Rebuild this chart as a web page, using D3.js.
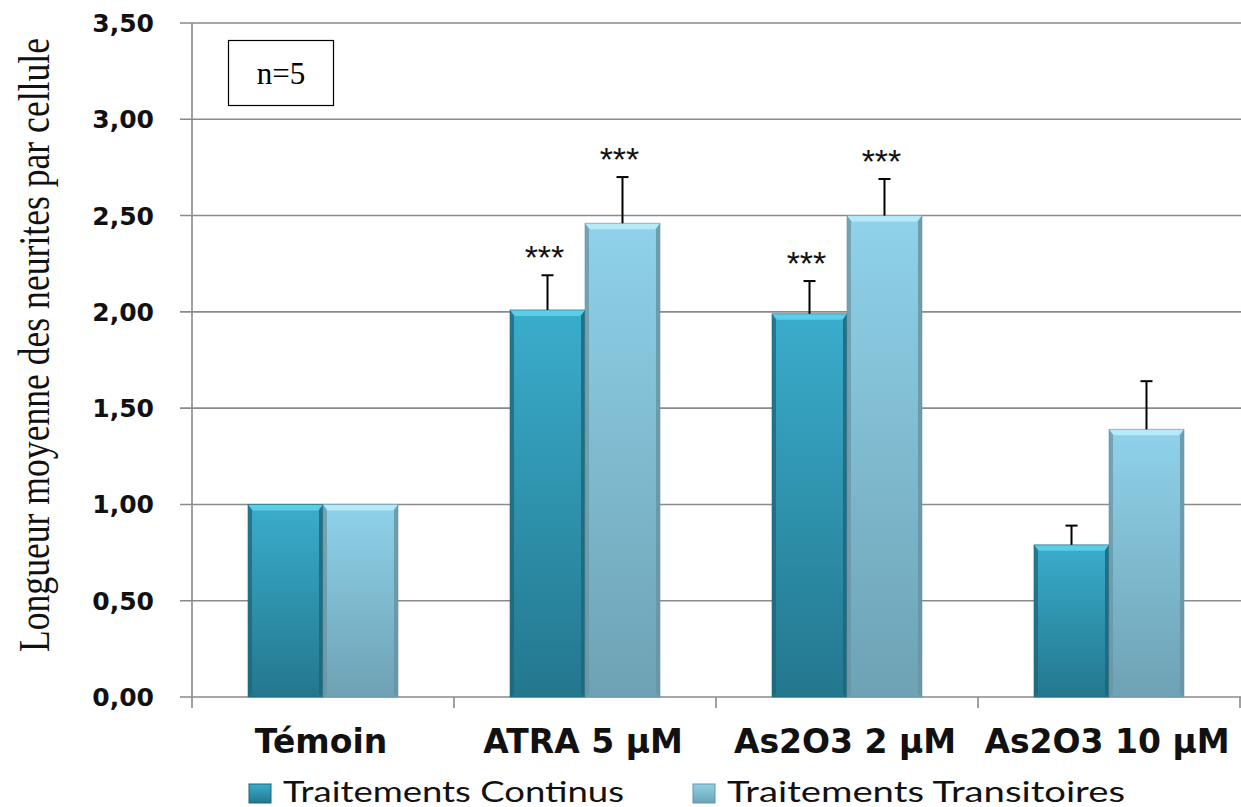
<!DOCTYPE html>
<html>
<head>
<meta charset="utf-8">
<script src="https://cdn.jsdelivr.net/npm/d3@7/dist/d3.min.js"></script>
<style>
  html, body { margin: 0; padding: 0; background: #fff; }
  svg { display: block; }
</style>
</head>
<body>
<svg id="chart" width="1241" height="807"></svg>
<script>
// Neurite length per cell, continuous vs. transient treatments
const categories = ["Témoin", "ATRA 5 µM", "As2O3 2 µM", "As2O3 10 µM"];
const seriesNames = ["Traitements Continus", "Traitements Transitoires"];
const continus = [1.00, 2.01, 1.99, 0.79];
const continusErr = [0, 0.18, 0.17, 0.10];
const transitoires = [1.00, 2.46, 2.50, 1.39];
const transitoiresErr = [0, 0.24, 0.19, 0.25];
const continusSig = ["", "***", "***", ""];
const transitoiresSig = ["", "***", "***", ""];
const yTicks = [0, 0.5, 1.0, 1.5, 2.0, 2.5, 3.0, 3.5];
const yTitle = "Longueur moyenne des neurites par cellule";
const nLabel = "n=5";

const svg = d3.select("#chart");
const W = 1241, H = 807;
const m = { left: 192, right: 1, top: 23, bottom: 110 };

const y = d3.scaleLinear().domain([0, 3.5]).range([H - m.bottom, m.top]);
const x0 = d3.scaleBand().domain(categories).range([m.left, W - m.right]).padding(0);
const x1 = d3.scaleBand().domain([0, 1]).range([0, x0.bandwidth()]).paddingInner(0).paddingOuter(0.747);

const fmt = v => d3.format(".2f")(v).replace(".", ",");

// gradients for the two series
const defs = svg.append("defs");
const palettes = [
  { id: "gC", top: "#3aadcc", bottom: "#23778e", edge: "#1d6679", hi: "#62d3ec" },
  { id: "gT", top: "#8fd2ea", bottom: "#6ea2b4", edge: "#6994a3", hi: "#bdeefb" }
];
palettes.forEach(p => {
  const g = defs.append("linearGradient").attr("id", p.id).attr("x1", 0).attr("y1", 0).attr("x2", 0).attr("y2", 1);
  g.append("stop").attr("offset", "0%").attr("stop-color", p.top);
  g.append("stop").attr("offset", "100%").attr("stop-color", p.bottom);
});

// horizontal gridlines
svg.append("g").selectAll("line").data(yTicks).join("line")
  .attr("x1", m.left - 12).attr("x2", W)
  .attr("y1", d => y(d)).attr("y2", d => y(d))
  .attr("stroke", "#8a8a8a").attr("stroke-width", 1.6);

// y axis line
svg.append("line")
  .attr("x1", m.left).attr("x2", m.left)
  .attr("y1", y(3.5)).attr("y2", y(0) + 11)
  .attr("stroke", "#8a8a8a").attr("stroke-width", 1.6);

// category boundary ticks
const bounds = categories.map(c => x0(c)).concat([x0(categories[3]) + x0.bandwidth()]);
svg.append("g").selectAll("line").data(bounds.slice(1)).join("line")
  .attr("x1", d => d).attr("x2", d => d)
  .attr("y1", y(0)).attr("y2", y(0) + 11)
  .attr("stroke", "#8a8a8a").attr("stroke-width", 1.6);

// y tick labels
svg.append("g").selectAll("text").data(yTicks).join("text")
  .attr("x", 154).attr("y", d => y(d) + 9)
  .attr("text-anchor", "end")
  .attr("font-family", "DejaVu Sans").attr("font-weight", "bold")
  .attr("font-size", 25).attr("fill", "#111")
  .text(fmt);

// bars
const series = [
  { vals: continus, err: continusErr, sig: continusSig, pal: palettes[0] },
  { vals: transitoires, err: transitoiresErr, sig: transitoiresSig, pal: palettes[1] }
];

series.forEach((s, si) => {
  categories.forEach((c, ci) => {
    const v = s.vals[ci];
    const bx = x0(c) + x1(si);
    const bw = x1.bandwidth();
    const by = y(v), bh = y(0) - y(v);
    const g = svg.append("g");
    g.append("rect").attr("x", bx).attr("y", by).attr("width", bw).attr("height", bh)
      .attr("fill", `url(#${s.pal.id})`);
    // bevel: lighter top, darker sides
    g.append("path")
      .attr("d", `M${bx},${by} L${bx + bw},${by} L${bx + bw - 5},${by + 6} L${bx + 5},${by + 6} Z`)
      .attr("fill", s.pal.hi).attr("opacity", 0.85);
    g.append("path")
      .attr("d", `M${bx},${by} L${bx + 4},${by + 6} L${bx + 4},${by + bh - 3} L${bx},${by + bh} Z`)
      .attr("fill", s.pal.edge).attr("opacity", 0.75);
    g.append("path")
      .attr("d", `M${bx + bw},${by} L${bx + bw - 4},${by + 6} L${bx + bw - 4},${by + bh - 3} L${bx + bw},${by + bh} Z`)
      .attr("fill", s.pal.edge).attr("opacity", 0.85);
    g.append("rect").attr("x", bx).attr("y", by).attr("width", bw).attr("height", bh)
      .attr("fill", "none").attr("stroke", s.pal.edge).attr("stroke-width", 1).attr("opacity", 0.6);

    // error bar (upper only)
    const e = s.err[ci];
    const cx = bx + bw / 2;
    if (e > 0) {
      svg.append("line").attr("x1", cx).attr("x2", cx).attr("y1", y(v)).attr("y2", y(v + e))
        .attr("stroke", "#000").attr("stroke-width", 2);
      svg.append("line").attr("x1", cx - 6).attr("x2", cx + 6).attr("y1", y(v + e)).attr("y2", y(v + e))
        .attr("stroke", "#000").attr("stroke-width", 2);
    }
    if (s.sig[ci]) {
      svg.append("text").attr("x", cx - 3).attr("y", y(v + e) - 6)
        .attr("text-anchor", "middle")
        .attr("font-family", "Liberation Sans").attr("font-size", 34).attr("fill", "#111")
        .text(s.sig[ci]);
    }
  });
});

// category labels
svg.append("g").selectAll("text").data(categories).join("text")
  .attr("x", d => x0(d) + x0.bandwidth() / 2 - 2).attr("y", 753)
  .attr("text-anchor", "middle")
  .attr("font-family", "DejaVu Sans").attr("font-weight", "bold")
  .attr("font-size", 33).attr("fill", "#111")
  .text(d => d);

// legend
const legendX = [249, 693];
const legendLen = [341, 398];
seriesNames.forEach((name, i) => {
  const p = palettes[i];
  const lx = legendX[i];
  svg.append("rect").attr("x", lx).attr("y", 784).attr("width", 22).attr("height", 19)
    .attr("fill", `url(#${p.id})`).attr("stroke", p.edge).attr("stroke-width", 1);
  svg.append("text").attr("x", lx + 34).attr("y", 802)
    .attr("font-family", "Lato").attr("font-size", 29).attr("fill", "#111")
    .attr("textLength", legendLen[i]).attr("lengthAdjust", "spacingAndGlyphs")
    .text(name);
});

// y axis title
svg.append("text")
  .attr("transform", `translate(49,${(38 + 652) / 2}) rotate(-90)`)
  .attr("text-anchor", "middle")
  .attr("font-family", "Liberation Serif").attr("font-size", 44).attr("fill", "#111")
  .attr("textLength", 614).attr("lengthAdjust", "spacingAndGlyphs")
  .text(yTitle);

// sample size box
svg.append("rect").attr("x", 228.5).attr("y", 40.5).attr("width", 105).attr("height", 65)
  .attr("fill", "#fff").attr("stroke", "#000").attr("stroke-width", 1.2);
svg.append("text").attr("x", 281).attr("y", 84).attr("text-anchor", "middle")
  .attr("font-family", "Liberation Serif").attr("font-size", 31).attr("fill", "#000")
  .text(nLabel);
</script>
</body>
</html>
